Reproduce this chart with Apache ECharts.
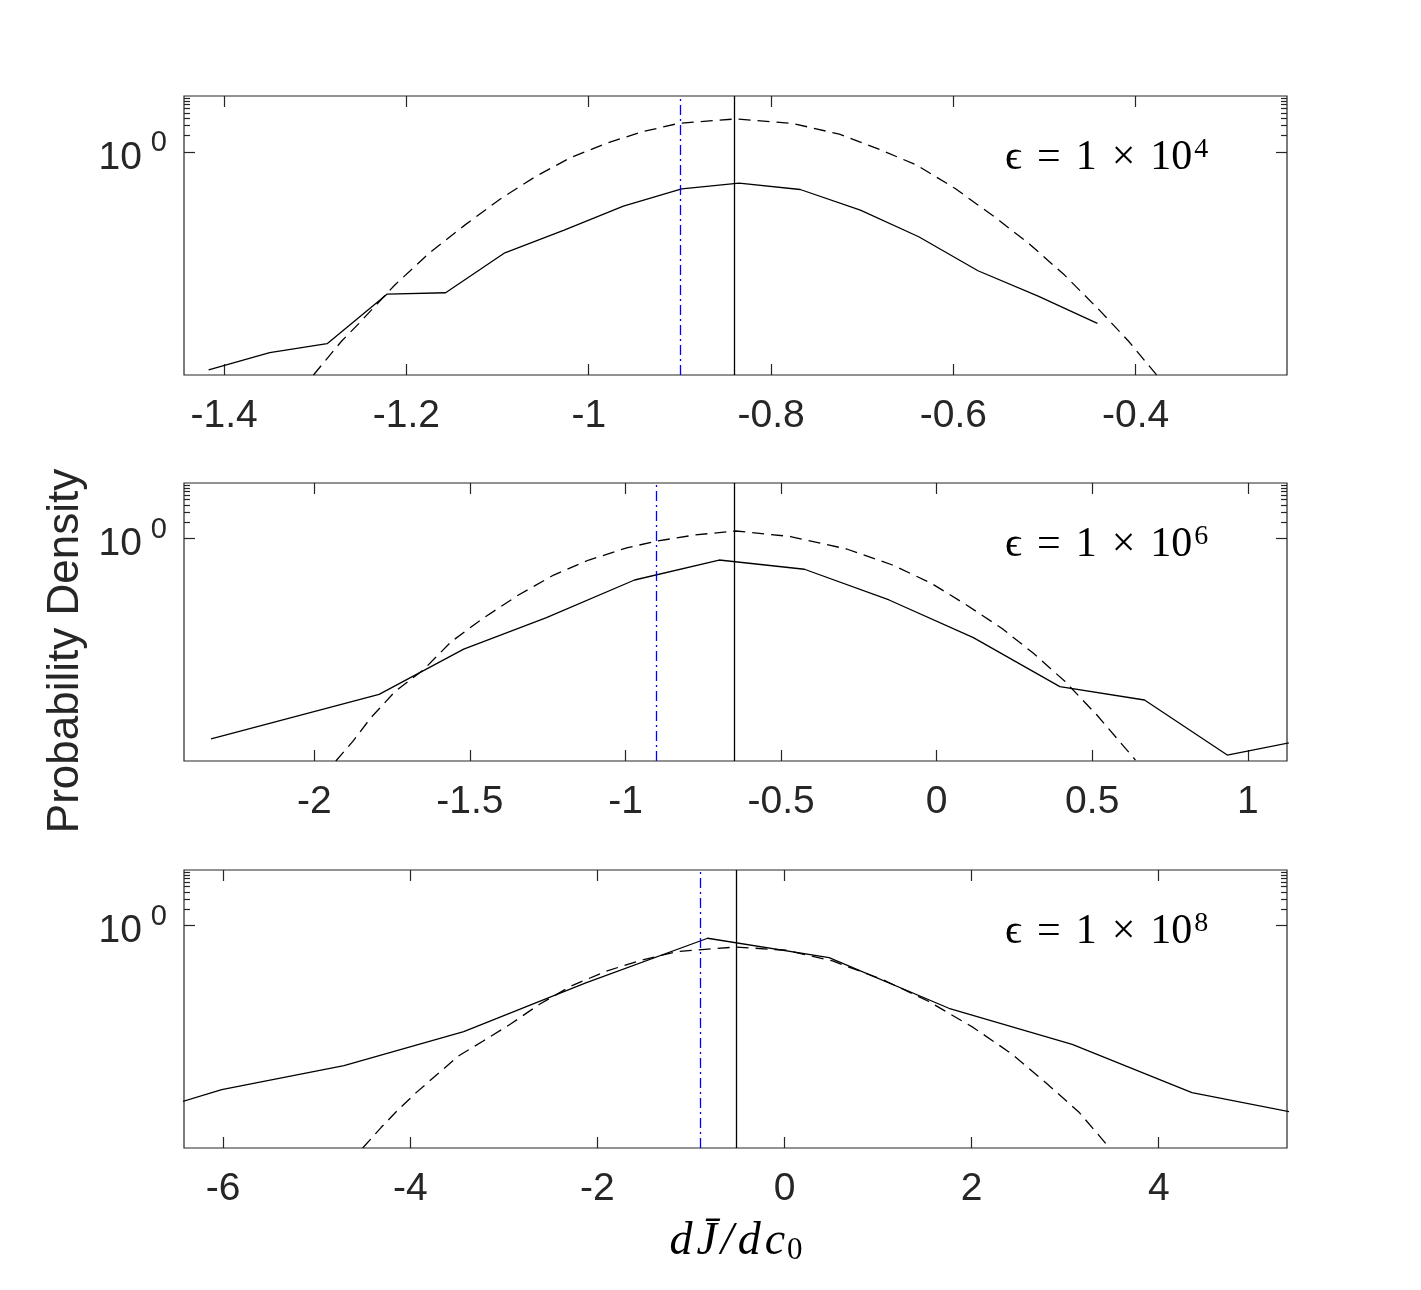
<!DOCTYPE html>
<html>
<head>
<meta charset="utf-8">
<script src="https://cdn.jsdelivr.net/npm/echarts@6/dist/echarts.min.js"></script>
<style>
  html, body { margin: 0; padding: 0; background: #fff; }
  #chart { width: 1421px; height: 1290px; }
</style>
</head>
<body>
<div id="chart"></div>
<script>
// ---- panel 1 : eps = 1e4 ----
const p1BinX = [-1.417, -1.350, -1.287, -1.221, -1.157, -1.092, -1.027, -0.962, -0.898, -0.835, -0.768, -0.702, -0.638, -0.573, -0.507, -0.442];
const p1Density = [1.23e-4, 2.51e-4, 3.64e-4, 2.82e-3, 2.98e-3, 0.0155, 0.0394, 0.106, 0.217, 0.274, 0.211, 0.0902, 0.0300, 7.38e-3, 2.60e-3, 8.43e-4];
const p1FitX = [-1.302, -1.271, -1.252, -1.213, -1.174, -1.136, -1.097, -1.058, -1.020, -0.981, -0.942, -0.901, -0.839, -0.777, -0.725, -0.679, -0.640, -0.598, -0.555, -0.516, -0.478, -0.439, -0.408, -0.377];
const p1Fit = [1.00e-4, 4.07e-4, 8.43e-4, 4.07e-3, 0.0158, 0.0485, 0.143, 0.363, 0.785, 1.41, 2.27, 3.24, 3.88, 3.24, 2.07, 1.07, 0.575, 0.220, 0.0684, 0.0219, 6.17e-3, 1.41e-3, 4.07e-4, 1.00e-4];
const p1Mean = -0.84;
const p1Ref = -0.901;
const p1Ticks = [-1.4, -1.2, -1, -0.8, -0.6, -0.4];
const p1Range = [-1.444, -0.234];

// ---- panel 2 : eps = 1e6 ----
const p2BinX = [-2.332, -2.062, -1.792, -1.520, -1.254, -0.971, -0.699, -0.425, -0.153, 0.118, 0.396, 0.668, 0.934, 1.206];
const p2Density = [2.49e-4, 6.30e-4, 1.58e-3, 0.0103, 0.0379, 0.180, 0.412, 0.281, 0.0787, 0.0166, 2.18e-3, 1.25e-3, 1.28e-4, 2.56e-4];
const p2FitX = [-1.931, -1.877, -1.820, -1.741, -1.650, -1.560, -1.458, -1.344, -1.231, -1.118, -0.993, -0.897, -0.778, -0.645, -0.470, -0.289, -0.142, -0.017, 0.096, 0.209, 0.311, 0.413, 0.515, 0.639];
const p2Fit = [1.00e-4, 2.23e-4, 5.86e-4, 1.77e-3, 4.34e-3, 0.0140, 0.0369, 0.0968, 0.221, 0.412, 0.689, 0.906, 1.16, 1.37, 1.09, 0.650, 0.335, 0.157, 0.0640, 0.0244, 8.65e-3, 2.68e-3, 6.71e-4, 1.04e-4];
const p2Mean = -0.648;
const p2Ref = -0.901;
const p2Ticks = [-2, -1.5, -1, -0.5, 0, 0.5, 1];
const p2Range = [-2.419, 1.126];

// ---- panel 3 : eps = 1e8 ----
const p3BinX = [-7.317, -6.016, -4.709, -3.429, -2.124, -0.822, 0.476, 1.757, 3.075, 4.355, 5.652];
const p3Density = [2.45e-4, 1.12e-3, 3.03e-3, 0.0124, 0.0929, 0.592, 0.265, 0.0326, 7.33e-3, 9.91e-4, 3.72e-4];
const p3FitX = [-4.509, -4.313, -4.125, -3.937, -3.711, -3.486, -3.221, -2.920, -2.619, -2.280, -1.904, -1.527, -1.150, -0.849, -0.518, 0.025, 0.514, 1.042, 1.532, 2.020, 2.435, 2.812, 3.151, 3.471];
const p3Fit = [1.00e-4, 2.33e-4, 4.97e-4, 9.91e-4, 2.12e-3, 4.52e-3, 8.39e-3, 0.0173, 0.0385, 0.0820, 0.152, 0.240, 0.340, 0.375, 0.412, 0.360, 0.231, 0.108, 0.0441, 0.0146, 4.84e-3, 1.40e-3, 4.34e-4, 1.02e-4];
const p3Mean = -0.522;
const p3Ref = -0.898;
const p3Ticks = [-6, -4, -2, 0, 2, 4];
const p3Range = [-6.419, 5.371];

// shared y (log) axis
const yRange = [1e-4, 10];
const yMajorTicks = [1];
const yMinorTicks = [2, 3, 4, 5, 6, 7, 8, 9];
const epsPowers = ['4', '6', '8'];

const AX = '#262626';
const SANS = '"Liberation Sans", Arial, sans-serif';
const SERIF = '"Liberation Serif", "DejaVu Serif", serif';

const panels = [
  { binX: p1BinX, dens: p1Density, fitX: p1FitX, fit: p1Fit, mean: p1Mean, ref: p1Ref, ticks: p1Ticks, range: p1Range, top: 96, height: 279 },
  { binX: p2BinX, dens: p2Density, fitX: p2FitX, fit: p2Fit, mean: p2Mean, ref: p2Ref, ticks: p2Ticks, range: p2Range, top: 483, height: 278 },
  { binX: p3BinX, dens: p3Density, fitX: p3FitX, fit: p3Fit, mean: p3Mean, ref: p3Ref, ticks: p3Ticks, range: p3Range, top: 870, height: 278 }
];

const logMin = Math.log10(yRange[0]);
const logMax = Math.log10(yRange[1]);
const toLog = v => Math.log10(v);

let grid = [], xAxis = [], yAxis = [], series = [], graphic = [];

panels.forEach((p, i) => {
  grid.push({
    left: 184, width: 1103, top: p.top, height: p.height,
    show: true, borderColor: AX, borderWidth: 1.2, backgroundColor: '#fff'
  });

  // bottom x axis with labels
  xAxis.push({
    type: 'value', gridIndex: i, position: 'bottom', min: p.range[0], max: p.range[1],
    axisLine: { show: false, onZero: false },
    splitLine: { show: false },
    axisTick: { inside: true, length: 11, customValues: p.ticks, lineStyle: { color: AX, width: 1.2 } },
    axisLabel: { customValues: p.ticks, margin: 22, color: AX, fontSize: 39, fontFamily: SANS,
      formatter: v => String(v) }
  });
  // mirrored top x axis, ticks only
  xAxis.push({
    type: 'value', gridIndex: i, position: 'top', min: p.range[0], max: p.range[1],
    axisLine: { show: false, onZero: false },
    splitLine: { show: false },
    axisTick: { inside: true, length: 11, customValues: p.ticks, lineStyle: { color: AX, width: 1.2 } },
    axisLabel: { show: false }
  });

  // data axis (log)
  yAxis.push({
    type: 'log', logBase: 10, gridIndex: i, min: yRange[0], max: yRange[1],
    axisLine: { show: false, onZero: false }, axisTick: { show: false },
    axisLabel: { show: false }, splitLine: { show: false }
  });
  // tick decoration axes, in log10 units
  ['left', 'right'].forEach(side => {
    yAxis.push({
      type: 'value', gridIndex: i, position: side, min: logMin, max: logMax,
      axisLine: { show: false, onZero: false }, splitLine: { show: false },
      axisTick: { inside: true, length: 11, customValues: yMajorTicks.map(toLog), lineStyle: { color: AX, width: 1.2 } },
      axisLabel: side === 'left' ? {
        customValues: yMajorTicks.map(toLog), margin: 17, color: AX,
        formatter: v => '{a|10}{b|' + Math.round(v) + '}',
        rich: {
          a: { fontSize: 39, fontFamily: SANS, color: AX, padding: [12, 0, 0, 0] },
          b: { fontSize: 29, fontFamily: SANS, color: AX, padding: [0, 0, 18, 9] }
        }
      } : { show: false }
    });
    yAxis.push({
      type: 'value', gridIndex: i, position: side, min: logMin, max: logMax,
      axisLine: { show: false, onZero: false }, splitLine: { show: false },
      axisTick: { inside: true, length: 6, customValues: yMinorTicks.map(toLog), lineStyle: { color: AX, width: 1.2 } },
      axisLabel: { show: false }
    });
  });

  series.push({
    type: 'line', xAxisIndex: 2 * i, yAxisIndex: 5 * i,
    data: p.binX.map((x, k) => [x, p.dens[k]]),
    showSymbol: false, symbol: 'none', animation: false, silent: true,
    lineStyle: { color: '#000', width: 1.3 },
    markLine: {
      silent: true, symbol: ['none', 'none'], label: { show: false }, animation: false,
      data: [
        { xAxis: p.mean, lineStyle: { color: '#000', width: 1.3, type: 'solid' } },
        { xAxis: p.ref, lineStyle: { color: '#0000ff', width: 1.3, type: [10, 4, 2, 4] } }
      ]
    }
  });
  series.push({
    type: 'line', xAxisIndex: 2 * i, yAxisIndex: 5 * i,
    data: p.fitX.map((x, k) => [x, p.fit[k]]),
    showSymbol: false, symbol: 'none', animation: false, silent: true,
    lineStyle: { color: '#000', width: 1.3, type: [12, 7] }
  });

  graphic.push({
    type: 'text', x: 1005, y: p.top + 62,
    style: {
      text: '{e|ϵ}{o|=}{n|1}{o|×}{n|10}{s|' + epsPowers[i] + '}',
      align: 'left', verticalAlign: 'middle',
      rich: {
        e: { fontSize: 42, fontFamily: SERIF, fill: '#000' },
        o: { fontSize: 42, fontFamily: SERIF, fill: '#000', padding: [0, 15, 0, 15] },
        n: { fontSize: 42, fontFamily: SERIF, fill: '#000' },
        s: { fontSize: 28, fontFamily: SERIF, fill: '#000', padding: [0, 0, 16, 2] }
      }
    }
  });
});

graphic.push({
  type: 'text', x: 66, y: 651, rotation: Math.PI / 2,
  style: { text: 'Probability Density', fontSize: 44, fontFamily: SANS, fill: AX, align: 'center', verticalAlign: 'middle' }
});
graphic.push({
  type: 'text', x: 735, y: 1242,
  style: {
    text: '{i|d}{i|J\u0304}{i|/}{i|d}{i|c}{s|0}', align: 'center', verticalAlign: 'middle',
    rich: {
      i: { fontSize: 46, fontStyle: 'italic', fontFamily: SERIF, fill: '#000', padding: [0, 2, 0, 2] },
      s: { fontSize: 31, fontFamily: SERIF, fill: '#000', padding: [17, 0, 0, 0] }
    }
  }
});

const chart = echarts.init(document.getElementById('chart'), null, { renderer: 'canvas' });
chart.setOption({
  backgroundColor: '#fff',
  animation: false,
  grid, xAxis, yAxis, series, graphic
});
</script>
</body>
</html>
